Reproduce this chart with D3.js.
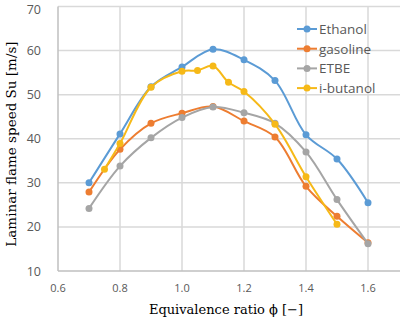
<!DOCTYPE html>
<html><head><meta charset="utf-8">
<script src="https://cdn.jsdelivr.net/npm/d3@7"></script>
<style>body{margin:0;background:#fff}svg{display:block}</style>
</head><body>
<script>
const seriesNames = ["Ethanol","gasoline","ETBE","i-butanol"];
const colors = ["#5B9BD5","#ED7D31","#A5A5A5","#F6B918"];
const phiMain = [0.7,0.8,0.9,1.0,1.1,1.2,1.3,1.4,1.5,1.6];
const ethanol = [30.0,41.1,51.8,56.3,60.3,57.9,53.2,40.9,35.4,25.5];
const gasoline = [27.9,37.6,43.5,45.8,47.3,44.0,40.4,29.2,22.4,16.4];
const etbe = [24.2,33.8,40.2,44.8,47.2,45.9,43.5,37.0,26.2,16.2];
const phiButanol = [0.75,0.8,0.9,1.0,1.05,1.1,1.15,1.2,1.3,1.4,1.5];
const butanol = [33.1,38.9,51.7,55.3,55.5,56.5,52.8,50.7,43.3,31.4,20.6];
const xTicks = [0.6,0.8,1.0,1.2,1.4,1.6];
const yTicks = [10,20,30,40,50,60,70];

const W=400,H=321;
const svg=d3.select("body").append("svg").attr("width",W).attr("height",H);
const x=d3.scaleLinear().domain([0.6,1.7]).range([58,399]);
const y=d3.scaleLinear().domain([10,70]).range([271,6.5]);

// grid
svg.append("g").selectAll("line").data(yTicks.filter(d=>d>10)).join("line")
 .attr("x1",58).attr("x2",400).attr("y1",d=>y(d)).attr("y2",d=>y(d))
 .attr("stroke","#D9D9D9").attr("stroke-width",1.5);
svg.append("g").selectAll("line").data(xTicks.filter(d=>d>0.6)).join("line")
 .attr("y1",6.5).attr("y2",271).attr("x1",d=>x(d)).attr("x2",d=>x(d))
 .attr("stroke","#D9D9D9").attr("stroke-width",1.5);
// axes lines
svg.append("line").attr("x1",58).attr("x2",400).attr("y1",271).attr("y2",271).attr("stroke","#BFBFBF").attr("stroke-width",1.5);
svg.append("line").attr("x1",58).attr("x2",58).attr("y1",6.5).attr("y2",271).attr("stroke","#BFBFBF").attr("stroke-width",1.5);

// tick labels
const tf="'Open Sans', 'Noto Sans', sans-serif";
svg.append("g").selectAll("text").data(yTicks).join("text")
 .attr("x",41).attr("y",d=>Math.max(y(d)+4.5,13.5)).attr("text-anchor","end")
 .attr("font-family",tf).attr("font-size",12.5).attr("fill","#595959").text(d=>d);
svg.append("g").selectAll("text").data(xTicks).join("text")
 .attr("x",d=>x(d)).attr("y",292).attr("text-anchor","middle")
 .attr("font-family",tf).attr("font-size",11).attr("fill","#595959").text(d=>d.toFixed(1));

// titles
const sf="'DejaVu Serif', serif";
svg.append("text").attr("x",226).attr("y",314).attr("text-anchor","middle")
 .attr("font-family",sf).attr("font-size",13).attr("fill","#000").text("Equivalence ratio ϕ [−]");
svg.append("text").attr("transform","translate(16,144) rotate(-90)").attr("text-anchor","middle")
 .attr("font-family",sf).attr("font-size",13.5).attr("fill","#000").text("Laminar flame speed Su [m/s]");

const series=[
 {xs:phiMain,ys:ethanol},{xs:phiMain,ys:gasoline},{xs:phiMain,ys:etbe},{xs:phiButanol,ys:butanol}
];
const line=d3.line().x(d=>x(d[0])).y(d=>y(d[1])).curve(d3.curveCatmullRom.alpha(0.5));
series.forEach((s,i)=>{
  const pts=s.xs.map((v,j)=>[v,s.ys[j]]);
  const g=svg.append("g");
  g.append("path").attr("d",line(pts)).attr("fill","none").attr("stroke",colors[i]).attr("stroke-width",2);
  g.selectAll("circle").data(pts).join("circle").attr("cx",d=>x(d[0])).attr("cy",d=>y(d[1])).attr("r",3.5).attr("fill",colors[i]);
});

// legend
const lg=svg.append("g");
seriesNames.forEach((n,i)=>{
  const yy=29+i*19.7;
  lg.append("line").attr("x1",297).attr("x2",317).attr("y1",yy).attr("y2",yy).attr("stroke",colors[i]).attr("stroke-width",2);
  lg.append("circle").attr("cx",307).attr("cy",yy).attr("r",3.5).attr("fill",colors[i]);
  lg.append("text").attr("x",319).attr("y",yy+5).attr("font-family",tf).attr("font-size",13.5).attr("fill","#595959").text(n);
});
</script>
</body></html>
